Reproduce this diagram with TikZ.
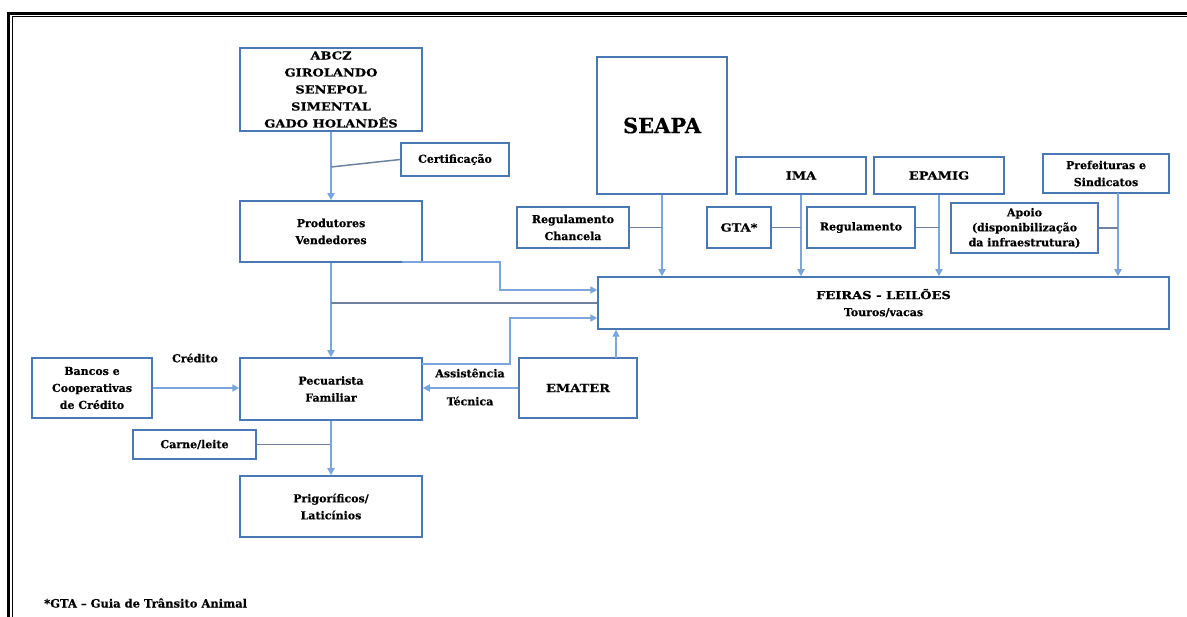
\documentclass[tikz,border=0pt]{standalone}
\usepackage{fontspec}
\setmainfont{DejaVu Serif}[BoldFeatures={FakeBold=0.4}]
\newfontfamily\capsfont[FakeStretch=1.18,BoldFeatures={FakeBold=0.4}]{DejaVu Serif}
\usetikzlibrary{arrows.meta}
\definecolor{boxblue}{HTML}{4A78B5}
\definecolor{arrblue}{HTML}{7AA6DB}
\definecolor{linkgray}{HTML}{6E82A0}
\begin{document}
\begin{tikzpicture}[x=1pt,y=-1pt,
  box/.style={draw=boxblue, line width=1.5pt, fill=white, align=center, inner sep=0pt,
    font=\bfseries\fontsize{11}{17}\selectfont},
  capbox/.style={box, font=\capsfont\bfseries\fontsize{11}{17}\selectfont},
  arr/.style={draw=arrblue, line width=2.2pt, -{Triangle[length=7pt,width=7pt]}},
  link/.style={draw=linkgray, line width=1.5pt},
  lbl/.style={font=\bfseries\fontsize{11}{17}\selectfont, inner sep=0pt}]
\useasboundingbox (0,0) rectangle (1187,617);
\begin{scope}
\clip (0,0) rectangle (1187,617);
\draw[line width=2.8pt] (8.6,640) -- (8.6,13.2) -- (1200,13.2);
\draw[line width=1.1pt] (12.4,640) -- (12.4,16.4) -- (1200,16.4);
\end{scope}

% boxes
\node[capbox, minimum width=182pt, minimum height=83pt] (abcz) at (331,89.5)
  {ABCZ\\GIROLANDO\\SENEPOL\\SIMENTAL\\GADO HOLANDÊS};
\node[box, minimum width=108pt, minimum height=33pt] (cert) at (455,159.5) {Certificação};
\node[box, minimum width=182pt, minimum height=61pt] (prod) at (331,231.5) {Produtores\\Vendedores};
\node[box, minimum width=130pt, minimum height=137pt, font=\bfseries\fontsize{21}{25}\selectfont] (seapa) at (662,125.5) {SEAPA};
\node[capbox, minimum width=130pt, minimum height=37pt] (ima) at (801,175.5) {IMA};
\node[capbox, minimum width=130pt, minimum height=37pt] (epamig) at (939,175.5) {EPAMIG};
\node[box, minimum width=126pt, minimum height=39pt] (pref) at (1106,173.5) {Prefeituras e\\Sindicatos};
\node[box, minimum width=112pt, minimum height=41pt] (regch) at (573,227.5) {Regulamento\\Chancela};
\node[capbox, minimum width=64pt, minimum height=41pt] (gta) at (739,227.5) {GTA*};
\node[box, minimum width=108pt, minimum height=41pt] (reg) at (861,227.5) {Regulamento};
\node[box, minimum width=147pt, minimum height=50pt, font=\bfseries\fontsize{11}{15}\selectfont] (apoio) at (1024.5,228) {Apoio\\(disponibilização\\da infraestrutura)};
\node[capbox, minimum width=571pt, minimum height=52pt] (feiras) at (883.5,303)
  {FEIRAS - LEILÕES\\{\normalfont\bfseries Touros/vacas}};
\node[box, minimum width=120pt, minimum height=60pt] (bancos) at (92,388) {Bancos e\\Cooperativas\\de Crédito};
\node[box, minimum width=182pt, minimum height=62pt] (pec) at (331,389) {Pecuarista\\Familiar};
\node[capbox, minimum width=118pt, minimum height=60pt] (emater) at (578,388) {EMATER};
\node[box, minimum width=123pt, minimum height=29pt] (carne) at (194.5,444.5) {Carne/leite};
\node[box, minimum width=182pt, minimum height=61pt] (prig) at (331,506.5) {Prigoríficos/\\Laticínios};

% labels
\node[lbl] (cred) at (195,358) {Crédito};
\node[lbl] (assist) at (470,373) {Assistência};
\node[lbl] (tec) at (470,401) {Técnica};
\node[lbl, anchor=west, font=\bfseries\fontsize{11.5}{14}\selectfont] (foot) at (44,603) {*GTA – Guia de Trânsito Animal};

% coordinates
\coordinate (j1) at (331,167);
\coordinate (p1) at (402,262);
\coordinate (p2) at (500,262);
\coordinate (p3) at (500,290);
\coordinate (m1) at (331,303);
\coordinate (q1) at (422,364);
\coordinate (q2) at (510,364);
\coordinate (q3) at (510,318);
\coordinate (e1) at (616,358);
\coordinate (f1) at (1118,193);

% connectors
\draw[arr] (abcz.south) -- (prod.north);
\draw[link] (cert.west) -- (j1);
\draw[arr] (prod.south) -- (pec.north);
\draw[arr] (p1) -- (p2) -- (p3) -- (p3 -| feiras.west);
\draw[link] (m1) -- (m1 -| feiras.west);
\draw[arr] (q1) -- (q2) -- (q3) -- (q3 -| feiras.west);
\draw[arr] (emater.west) -- (emater.west -| pec.east);
\draw[arr] (e1) -- (e1 |- feiras.south);
\draw[arr] (bancos.east) -- (bancos.east -| pec.west);
\draw[link] (carne.east) -- (carne.east -| pec.south);
\draw[arr] (pec.south) -- (prig.north);
\draw[arr] (seapa.south) -- (seapa.south |- feiras.north);
\draw[link] (regch.east) -- (regch.east -| seapa.south);
\draw[arr] (ima.south) -- (ima.south |- feiras.north);
\draw[link] (gta.east) -- (gta.east -| ima.south);
\draw[arr] (epamig.south) -- (epamig.south |- feiras.north);
\draw[link] (reg.east) -- (reg.east -| epamig.south);
\draw[arr] (f1) -- (f1 |- feiras.north);
\draw[link] (apoio.east) -- (apoio.east -| f1);
\end{tikzpicture}
\end{document}
